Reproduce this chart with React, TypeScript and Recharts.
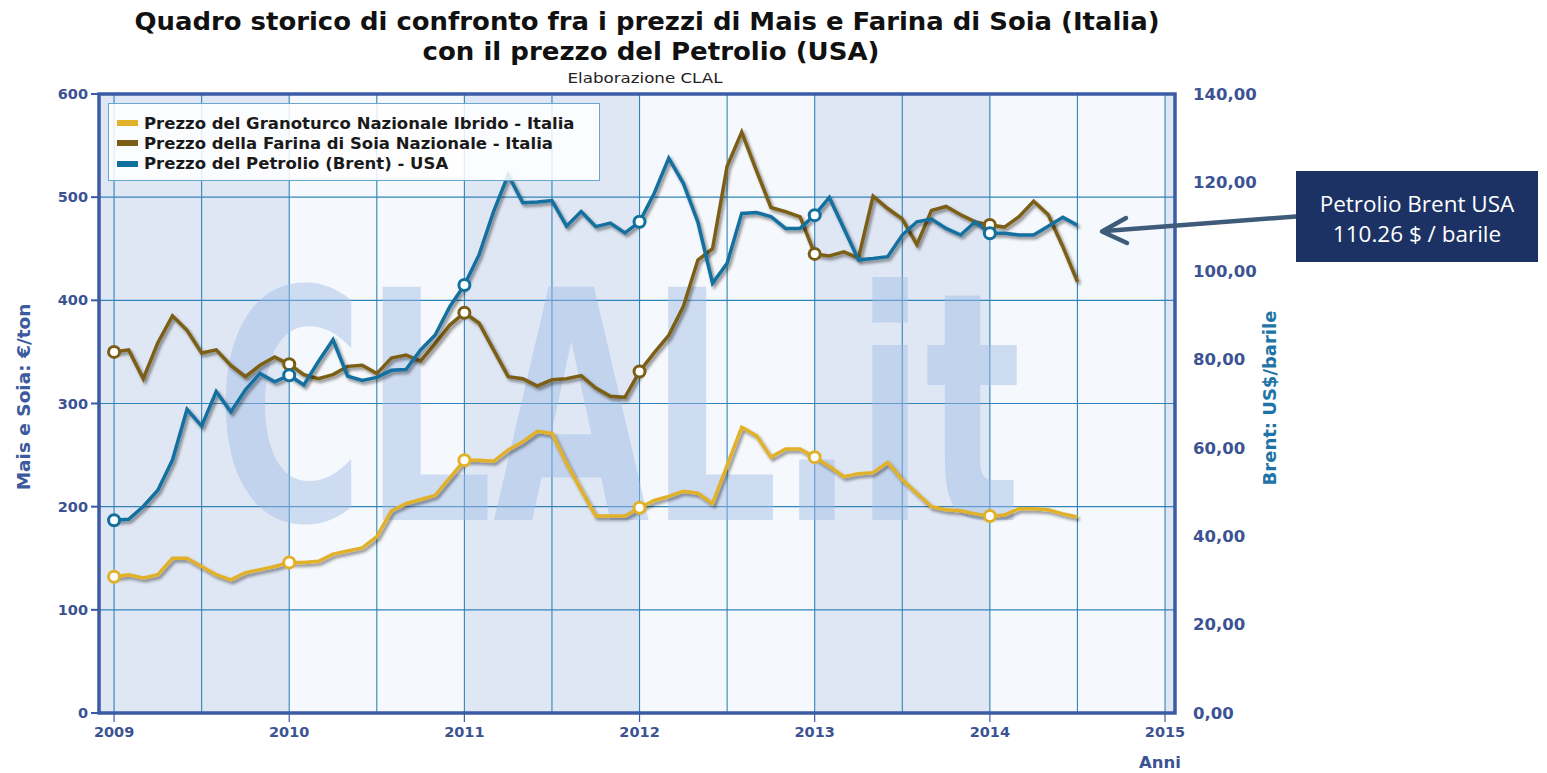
import React from 'react';
import { LineChart, Line, XAxis, YAxis, CartesianGrid, ReferenceArea, Legend } from 'recharts';

// monthly values, gen 2009 -> lug 2014
const startYear = 2009;

const mais = [
  132, 134, 131, 134, 150, 150, 142, 134, 129, 136, 139, 142,
  146, 146, 147, 154, 157, 160, 171, 196, 203, 207, 211, 228,
  245, 245, 244, 255, 263, 273, 271, 242, 216, 191, 191, 191,
  199, 206, 210, 215, 213, 203, 240, 277, 269, 248, 256, 256,
  248, 239, 229, 232, 233, 243, 226, 213, 200, 197, 196, 193,
  191, 192, 198, 198, 197, 193, 190,
];

const soia = [
  350, 352, 324, 359, 385, 371, 349, 352, 337, 326, 337, 345,
  338, 328, 324, 328, 336, 337, 329, 344, 347, 341, 358, 376,
  388, 378, 352, 326, 324, 317, 323, 324, 327, 315, 307, 306,
  331, 349, 366, 394, 439, 450, 530, 563, 526, 490, 486, 481,
  445, 443, 447, 441, 501, 489, 479, 454, 487, 491, 483, 476,
  473, 471, 481, 496, 483, 452, 418,
];

const brent = [
  43.6, 43.8, 46.7, 50.4, 57.2, 68.7, 64.9, 72.7, 68.1, 73.1, 76.8, 74.9,
  76.4, 74.2, 79.5, 84.4, 76.2, 75.2, 75.9, 77.5, 77.7, 82.1, 85.5, 91.9,
  96.8, 103.6, 113.4, 121.7, 115.4, 115.6, 115.9, 110.1, 113.4, 110.0, 110.8, 108.6,
  111.1, 117.5, 125.5, 119.8, 111.0, 97.2, 101.7, 113.0, 113.2, 112.3, 109.6, 109.6,
  112.6, 116.6, 109.6, 102.5, 102.8, 103.2, 108.1, 111.1, 111.7, 109.6, 108.1, 111.1,
  108.5, 108.5, 108.1, 108.1, 110.1, 112.1, 110.3,
];

const gridTicks = [2009, 2009.5, 2010, 2010.5, 2011, 2011.5, 2012, 2012.5, 2013, 2013.5, 2014, 2014.5, 2015];
const leftTicks = [0, 100, 200, 300, 400, 500, 600];
const rightTicks = [0, 20, 40, 60, 80, 100, 120, 140];
const xDomain: [number, number] = [2008.914, 2015.057];

const bandEdges = [xDomain[0], 2010, 2011, 2012, 2013, 2014, 2015, xDomain[1]];

const COL_MAIS = '#e2b12a';
const COL_SOIA = '#7b5e16';
const COL_BRENT = '#12709f';
const COL_FRAME = '#3b5ba5';
const COL_GRID = '#2f86b8';
const COL_TICK = '#3c5393';
const BAND_TINT = '#4f7cc4';
const FONT = '"DejaVu Sans", Verdana, sans-serif';

const legendItems = [
  { name: 'Prezzo del Granoturco Nazionale Ibrido - Italia', color: COL_MAIS },
  { name: 'Prezzo della Farina di Soia Nazionale - Italia', color: COL_SOIA },
  { name: 'Prezzo del Petrolio (Brent) - USA', color: COL_BRENT },
];

const data = mais.map((v, i) => ({
  t: startYear + i / 12,
  mais: v,
  soia: soia[i],
  brent: brent[i],
}));

const yearDot = (color: string) => (props: any) => {
  const { cx, cy, index } = props;
  if (index % 12 !== 0 || cx == null || cy == null) return <g key={`d${index}`} />;
  return <circle key={`d${index}`} cx={cx} cy={cy} r={5.5} fill="#ffffff" stroke={color} strokeWidth={3} />;
};

const YearTick = (props: any) => {
  const { x, y, payload } = props;
  if (!Number.isInteger(payload.value)) return <g />;
  return (
    <g>
      <line x1={x} x2={x} y1={y - 12} y2={y - 3} stroke={COL_FRAME} strokeWidth={1.2} />
      <text x={x} y={y + 12} textAnchor="middle" fill={COL_TICK} fontFamily={FONT} fontWeight="bold" fontSize={14.5}>
        {payload.value}
      </text>
    </g>
  );
};

const Watermark = (props: any) => {
  const vb = props.viewBox;
  if (!vb) return null;
  return (
    <text
      x={vb.x}
      y={vb.y + vb.height}
      fontFamily={FONT}
      fontWeight="bold"
      fontSize={320}
      fill="#9fbbe6"
      fillOpacity={0.45}
      textLength={vb.width}
      lengthAdjust="spacingAndGlyphs"
    >
      CLAL.it
    </text>
  );
};

const renderLegend = () => (
  <div
    style={{
      width: 492,
      height: 78,
      boxSizing: 'border-box',
      border: '1px solid #6aa7cc',
      background: 'rgba(255,255,255,0.85)',
      padding: '9px 0 0 8px',
      fontFamily: FONT,
      fontWeight: 'bold',
      fontSize: 16.5,
      color: '#1a1a1a',
    }}
  >
    {legendItems.map((it) => (
      <div key={it.name} style={{ display: 'flex', alignItems: 'center', height: 20.3, whiteSpace: 'nowrap' }}>
        <span style={{ display: 'inline-block', width: 21, height: 6, background: it.color, marginRight: 6 }} />
        {it.name}
      </div>
    ))}
  </div>
);

export default function App() {
  return (
    <div style={{ position: 'absolute', left: 0, top: 0, width: 1547, height: 773, background: '#ffffff' }}>
      <LineChart width={1547} height={773} data={data} margin={{ top: 94, right: 312, bottom: 30, left: 39 }}>
        <CartesianGrid yAxisId="left" stroke={COL_GRID} strokeWidth={1.1} />
        {bandEdges.slice(0, -1).map((x1, i) => (
          <ReferenceArea
            key={`band${i}`}
            yAxisId="left"
            x1={x1}
            x2={bandEdges[i + 1]}
            y1={0}
            y2={600}
            fill={BAND_TINT}
            fillOpacity={i % 2 === 0 ? 0.18 : 0.055}
            stroke="none"
          />
        ))}
        <ReferenceArea
          yAxisId="left"
          x1={2009.58}
          x2={2014.18}
          y1={187}
          y2={415}
          fill="none"
          stroke="none"
          label={<Watermark />}
        />
        <XAxis
          dataKey="t"
          type="number"
          domain={xDomain}
          allowDataOverflow
          ticks={gridTicks}
          interval={0}
          tick={<YearTick />}
          tickLine={false}
          axisLine={false}
          tickSize={8}
          tickMargin={4}
          height={30}
        />
        <YAxis
          yAxisId="left"
          domain={[0, 600]}
          ticks={leftTicks}
          width={60}
          axisLine={false}
          tickLine={{ stroke: COL_FRAME, strokeWidth: 2 }}
          tickSize={8}
          tickMargin={3}
          tick={{ fill: COL_TICK, fontFamily: FONT, fontWeight: 'bold', fontSize: 14.5 }}
        />
        <YAxis
          yAxisId="right"
          orientation="right"
          domain={[0, 140]}
          ticks={rightTicks}
          width={60}
          axisLine={false}
          tickLine={false}
          tickSize={6}
          tickMargin={12}
          tickFormatter={(v: number) => v.toFixed(2).replace('.', ',')}
          tick={{ fill: COL_TICK, fontFamily: FONT, fontWeight: 'bold', fontSize: 16.5, textAnchor: 'start' }}
        />
        <Legend
          layout="vertical"
          align="center"
          verticalAlign="middle"
          content={renderLegend}
          wrapperStyle={{ left: 108, top: 103, width: 492, height: 78 }}
        />
        <Line
          yAxisId="left"
          type="linear"
          dataKey="mais"
          name={legendItems[0].name}
          stroke={COL_MAIS}
          strokeWidth={3.5}
          dot={yearDot(COL_MAIS)}
          activeDot={false}
          isAnimationActive={false}
          style={{ filter: 'url(#lineShadow)' }}
        />
        <Line
          yAxisId="left"
          type="linear"
          dataKey="soia"
          name={legendItems[1].name}
          stroke={COL_SOIA}
          strokeWidth={3.5}
          dot={yearDot(COL_SOIA)}
          activeDot={false}
          isAnimationActive={false}
          style={{ filter: 'url(#lineShadow)' }}
        />
        <Line
          yAxisId="right"
          type="linear"
          dataKey="brent"
          name={legendItems[2].name}
          stroke={COL_BRENT}
          strokeWidth={3.5}
          dot={yearDot(COL_BRENT)}
          activeDot={false}
          isAnimationActive={false}
          style={{ filter: 'url(#lineShadow)' }}
        />
        <ReferenceArea
          yAxisId="left"
          x1={xDomain[0]}
          x2={xDomain[1]}
          y1={0}
          y2={600}
          fill="none"
          stroke={COL_FRAME}
          strokeWidth={3.5}
        />
      </LineChart>

      <svg
        width={1547}
        height={773}
        style={{ position: 'absolute', left: 0, top: 0, pointerEvents: 'none' }}
      >
        <defs>
          <filter id="lineShadow" x="-5%" y="-10%" width="110%" height="125%">
            <feDropShadow dx="2" dy="2.5" stdDeviation="1.4" floodColor="#000000" floodOpacity="0.45" />
          </filter>
        </defs>
        <text
          x={647}
          y={30}
          textAnchor="middle"
          fontFamily={FONT}
          fontWeight="bold"
          fontSize={25}
          fill="#111111"
          textLength={1025}
          lengthAdjust="spacingAndGlyphs"
        >
          Quadro storico di confronto fra i prezzi di Mais e Farina di Soia (Italia)
        </text>
        <text
          x={651}
          y={60}
          textAnchor="middle"
          fontFamily={FONT}
          fontWeight="bold"
          fontSize={25}
          fill="#111111"
          textLength={457}
          lengthAdjust="spacingAndGlyphs"
        >
          con il prezzo del Petrolio (USA)
        </text>
        <text
          x={645}
          y={83}
          textAnchor="middle"
          fontFamily={FONT}
          fontSize={14.5}
          fill="#222222"
          textLength={155}
          lengthAdjust="spacingAndGlyphs"
        >
          Elaborazione CLAL
        </text>
        <text
          transform="translate(23,397) rotate(-90)"
          textAnchor="middle"
          dominantBaseline="central"
          fontFamily={FONT}
          fontWeight="bold"
          fontSize={18.5}
          fill="#3c5a9e"
        >
          Mais e Soia: €/ton
        </text>
        <text
          transform="translate(1269,398) rotate(-90)"
          textAnchor="middle"
          dominantBaseline="central"
          fontFamily={FONT}
          fontWeight="bold"
          fontSize={18}
          fill="#1e74a6"
        >
          Brent: US$/barile
        </text>
        <text x={1160} y={768} textAnchor="middle" fontFamily={FONT} fontWeight="bold" fontSize={16.5} fill={COL_TICK}>
          Anni
        </text>
        <line x1={1296} y1={216.5} x2={1105} y2={231} stroke="#3e5b7a" strokeWidth={4.5} strokeLinecap="round" />
        <polyline
          points="1126,218 1102,231.5 1127,243"
          fill="none"
          stroke="#3e5b7a"
          strokeWidth={4.5}
          strokeLinecap="round"
          strokeLinejoin="round"
        />
      </svg>

      <div
        style={{
          position: 'absolute',
          left: 1296,
          top: 171,
          width: 242,
          height: 91,
          background: '#1c3264',
          color: '#ffffff',
          fontFamily: '"Open Sans", "Noto Sans", sans-serif',
          fontSize: 22.5,
          lineHeight: '30px',
          display: 'flex',
          flexDirection: 'column',
          justifyContent: 'center',
          alignItems: 'center',
          paddingTop: 4,
          boxSizing: 'border-box',
        }}
      >
        <div>Petrolio Brent USA</div>
        <div>110.26 $ / barile</div>
      </div>
    </div>
  );
}
